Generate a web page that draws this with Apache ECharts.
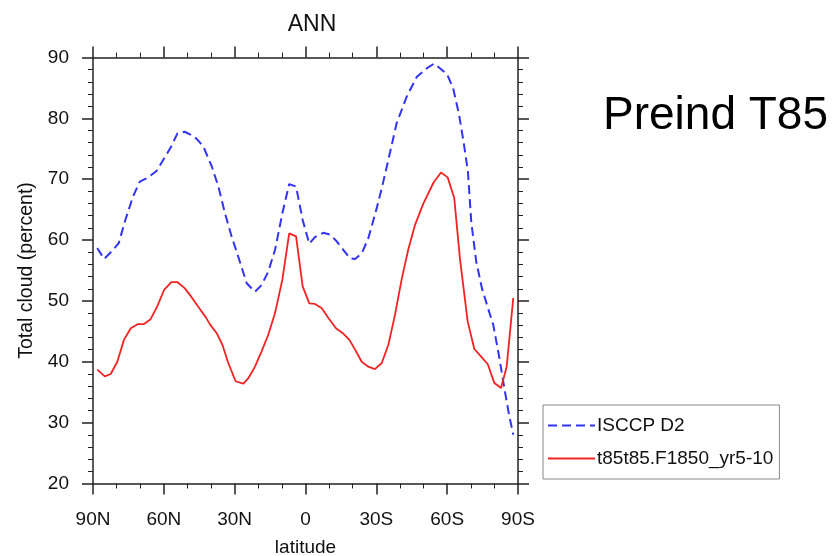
<!DOCTYPE html>
<html>
<head>
<meta charset="utf-8">
<script src="https://cdn.jsdelivr.net/npm/echarts@6/dist/echarts.min.js"></script>
<style>
html,body{margin:0;padding:0;background:#fff;}
#c{width:834px;height:556px;}
</style>
</head>
<body>
<div id="c"></div>
<script>
// ---- data ----
const xTickValues = [90, 60, 30, 0, -30, -60, -90];
const xTickLabels = ['90N', '60N', '30N', '0', '30S', '60S', '90S'];
const yTicks = [20, 30, 40, 50, 60, 70, 80, 90];

const isccpLat = [88.2, 85.3, 82.2, 79.1, 76.3, 73.1, 70.2, 67.0, 63.2, 59.9, 56.8, 54.3, 51.2, 48.5, 46.3, 43.3, 39.7, 36.9, 34.1, 31.3, 28.5, 24.9, 21.4, 18.6, 15.8, 12.9, 9.8, 6.9, 4.0, 1.2, -1.6, -4.0, -7.5, -10.4, -13.2, -16.0, -18.8, -21.0, -23.8, -26.6, -30.0, -32.3, -35.1, -38.6, -42.9, -47.1, -51.3, -54.5, -57.7, -60.0, -62.5, -65.0, -67.0, -68.8, -70.2, -72.3, -74.7, -77.3, -79.5, -81.9, -84.2, -86.2, -88.0];
const isccpVal = [58.7, 56.9, 58.1, 59.5, 63.3, 67.1, 69.6, 70.2, 71.3, 73.4, 75.4, 77.5, 77.8, 77.3, 76.7, 75.4, 72.1, 68.8, 64.4, 60.6, 57.3, 52.9, 51.5, 52.6, 54.8, 58.4, 64.4, 69.2, 68.8, 63.3, 59.4, 60.5, 61.2, 60.9, 59.8, 58.4, 57.0, 56.9, 57.8, 60.3, 65.0, 68.5, 73.2, 79.2, 83.6, 86.8, 88.2, 89.0, 88.0, 87.2, 85.0, 80.7, 76.0, 71.2, 63.0, 56.5, 52.1, 48.8, 46.1, 41.1, 35.7, 31.3, 28.0];

const modelLat = [88.2, 85.0, 82.5, 79.7, 76.9, 74.0, 70.9, 68.4, 65.6, 62.8, 59.9, 56.8, 54.3, 51.2, 48.4, 45.5, 42.2, 40.4, 37.6, 35.2, 32.7, 29.6, 26.3, 24.2, 21.4, 18.6, 15.8, 12.9, 9.8, 6.9, 4.0, 1.2, -1.6, -4.0, -6.9, -9.7, -12.9, -15.8, -18.6, -21.0, -23.8, -26.6, -29.4, -32.3, -35.1, -37.9, -40.7, -43.5, -46.4, -49.9, -54.3, -57.4, -60.2, -63.0, -65.4, -68.7, -71.5, -74.3, -77.2, -80.0, -82.8, -85.2, -88.0];
const modelVal = [38.7, 37.6, 38.0, 40.0, 43.6, 45.5, 46.2, 46.2, 47.0, 49.1, 51.8, 53.1, 53.1, 52.1, 50.7, 49.1, 47.3, 46.1, 44.7, 42.8, 39.8, 36.8, 36.4, 37.3, 39.2, 41.7, 44.4, 48.0, 53.5, 61.1, 60.6, 52.4, 49.6, 49.5, 48.8, 47.2, 45.5, 44.7, 43.6, 42.0, 40.0, 39.2, 38.8, 39.8, 42.8, 47.7, 53.5, 58.4, 62.5, 66.0, 69.5, 71.1, 70.3, 66.9, 57.0, 46.6, 42.1, 40.9, 39.6, 36.5, 35.7, 39.2, 50.5];

const seriesNames = ['ISCCP D2', 't85t85.F1850_yr5-10'];

// ---- chart ----
const FONT = '"Liberation Sans", Arial, Helvetica, sans-serif';
const axisColor = '#222';
const xLabelMap = {};
xTickValues.forEach((v, i) => { xLabelMap[v] = xTickLabels[i]; });

function xAxisCfg(pos, showLabel) {
  return {
    type: 'value', position: pos, min: -90, max: 90, interval: 30, inverse: true,
    name: showLabel ? 'latitude' : '', nameLocation: 'middle', nameGap: 55,
    nameTextStyle: { fontFamily: FONT, fontSize: 19, color: '#111' },
    axisLine: { show: true, onZero: false, lineStyle: { color: axisColor, width: 1.5 } },
    axisTick: { show: true, inside: false, length: 11, lineStyle: { color: axisColor, width: 1.5 } },
    minorTick: { show: true, splitNumber: 3, length: 5, lineStyle: { color: axisColor, width: 1 } },
    splitLine: { show: false },
    axisLabel: { show: showLabel, margin: 27, fontFamily: FONT, fontSize: 19, color: '#111',
      formatter: v => (xLabelMap[v] !== undefined ? xLabelMap[v] : '') }
  };
}
function yAxisCfg(pos, showLabel) {
  return {
    type: 'value', position: pos, min: 20, max: 90, interval: 10,
    name: showLabel ? 'Total cloud (percent)' : '', nameLocation: 'middle', nameGap: 56, nameRotate: 90,
    nameTextStyle: { fontFamily: FONT, fontSize: 19.5, color: '#111' },
    axisLine: { show: true, onZero: false, lineStyle: { color: axisColor, width: 1.5 } },
    axisTick: { show: true, inside: false, length: 11, lineStyle: { color: axisColor, width: 1.5 } },
    minorTick: { show: true, splitNumber: 5, length: 5, lineStyle: { color: axisColor, width: 1 } },
    splitLine: { show: false },
    axisLabel: { show: showLabel, margin: 24, fontFamily: FONT, fontSize: 19, color: '#111' }
  };
}

const chart = echarts.init(document.getElementById('c'), null, { renderer: 'canvas' });
chart.setOption({
  backgroundColor: '#fff',
  animation: false,
  title: [
    { text: 'ANN', left: 307, top: 8, textAlign: 'center',
      textStyle: { fontFamily: FONT, fontSize: 23, fontWeight: 'normal', color: '#111' } },
    { text: 'Preind T85', left: 598, top: 88,
      textStyle: { fontFamily: FONT, fontSize: 46, fontWeight: 'normal', color: '#000' } }
  ],
  grid: { left: 93, top: 57.5, right: 316, bottom: 72.5, containLabel: false, outerBoundsMode: 'none' },
  xAxis: [xAxisCfg('bottom', true), xAxisCfg('top', false)],
  yAxis: [yAxisCfg('left', true), yAxisCfg('right', false)],
  legend: {
    orient: 'vertical', left: 543, top: 405, width: 236,
    padding: [11, 6, 11, 4], itemGap: 14, itemWidth: 47, itemHeight: 14,
    borderColor: '#888', borderWidth: 1, backgroundColor: '#fff',
    itemStyle: { color: 'rgba(0,0,0,0)', borderWidth: 0, opacity: 0 },
    textStyle: { fontFamily: FONT, fontSize: 19, color: '#111', padding: [0, 0, 0, -3] },
    data: seriesNames
  },
  series: [
    { name: seriesNames[0], type: 'line', xAxisIndex: 0, yAxisIndex: 0, symbol: 'none',
      lineStyle: { color: '#3333f5', width: 2, type: [9, 5] }, itemStyle: { color: '#3333f5' },
      data: isccpLat.map((x, i) => [x, isccpVal[i]]) },
    { name: seriesNames[1], type: 'line', xAxisIndex: 0, yAxisIndex: 0, symbol: 'none',
      lineStyle: { color: '#f52222', width: 1.8 }, itemStyle: { color: '#f52222' },
      data: modelLat.map((x, i) => [x, modelVal[i]]) }
  ]
});
</script>
</body>
</html>
